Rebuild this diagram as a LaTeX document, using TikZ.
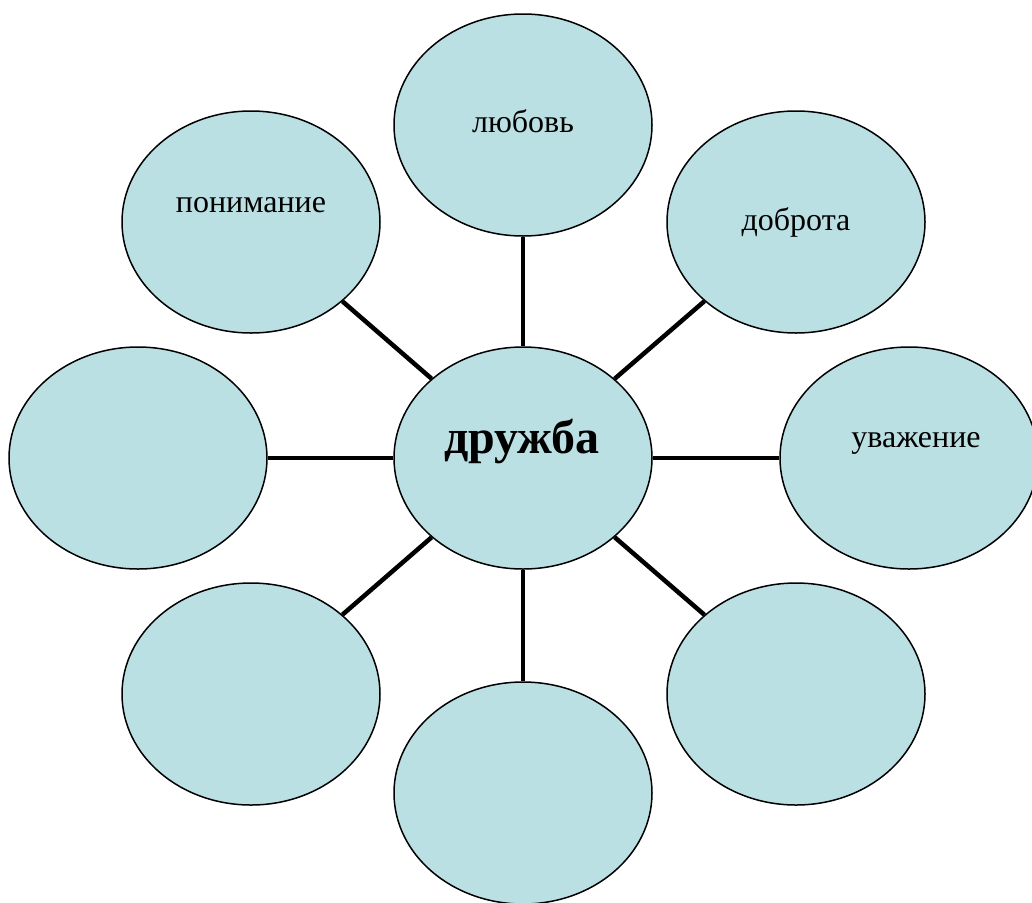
\documentclass[tikz,border=0pt]{standalone}
\usepackage{fontspec}
\setmainfont{Liberation Serif}
\usetikzlibrary{shapes.geometric}
\definecolor{bubblefill}{RGB}{187,224,227}
\tikzset{
  bubble/.style={ellipse, draw=black, line width=1.5pt, fill=bubblefill,
    minimum width=258pt, minimum height=222pt, inner sep=0pt},
  spoke/.style={line width=4.5pt, draw=black},
  word/.style={anchor=base, inner sep=0pt, font=\fontsize{32}{36}\selectfont},
}
\begin{document}
\begin{tikzpicture}[x=1pt,y=-1pt]
\useasboundingbox (0,0) rectangle (1032,902);
\clip (0,0) rectangle (1032,902);
\node[bubble] (c)  at (523,458) {};
\node[bubble] (n)  at (523,125) {};
\node[bubble] (nw) at (251,222) {};
\node[bubble] (ne) at (796,222) {};
\node[bubble] (w)  at (138,458) {};
\node[bubble] (e)  at (909,458) {};
\node[bubble] (sw) at (251,694) {};
\node[bubble] (s)  at (523,793) {};
\node[bubble] (se) at (796,694) {};
\foreach \o in {n,nw,ne,w,e,sw,s,se}{\draw[spoke] (c) -- (\o);}
\node[word] (tn)  at (523,132) {любовь};
\node[word] (tnw) at (251,212) {понимание};
\node[word] (tne) at (796,230) {доброта};
\node[word] (te)  at (916,447) {уважение};
\node[word, font=\fontsize{48}{52}\selectfont\bfseries] (tc) at (522,453) {дружба};
\end{tikzpicture}
\end{document}
